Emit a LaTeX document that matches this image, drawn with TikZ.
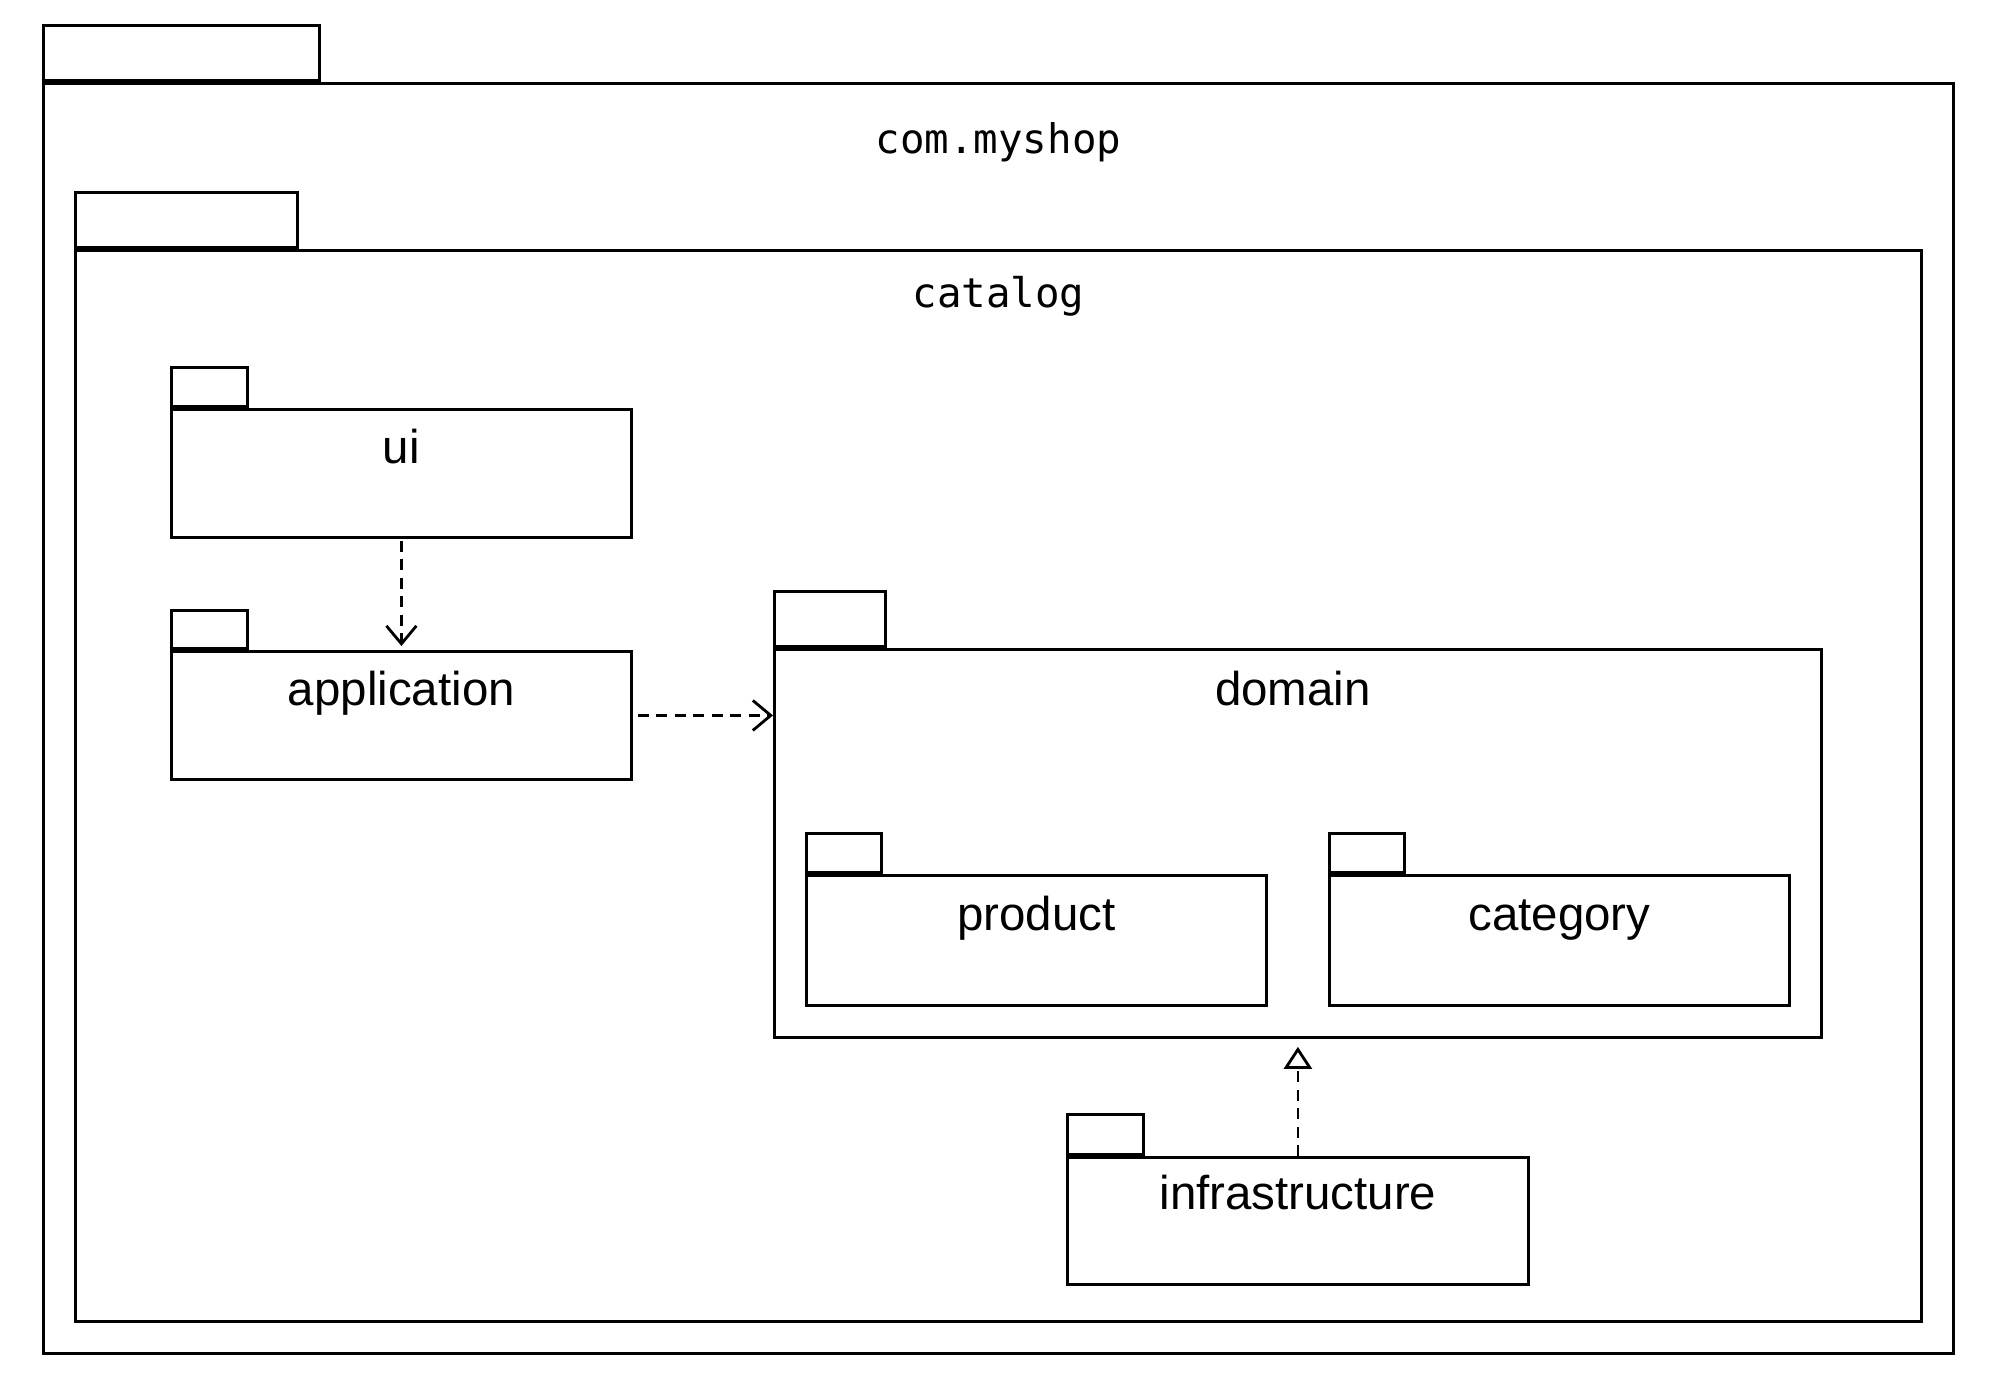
\documentclass[tikz,border=0pt]{standalone}
\usepackage{fontspec}
\setmainfont{Liberation Sans}
\newfontfamily\monofont{DejaVu Sans Mono}
\usetikzlibrary{arrows.meta,positioning}

\tikzset{
    pkgbody/.style={draw, line width=0.8pt, rectangle, inner sep=0pt, anchor=north west},
    pkgtab/.style={draw, line width=0.8pt, rectangle, inner sep=0pt, anchor=south west},
    pkglabel/.style={anchor=base, inner sep=0pt, font=\fontsize{13.5pt}{16pt}\selectfont},
    pkgtitle/.style={anchor=base, inner sep=0pt, font=\monofont\fontsize{11.6pt}{14pt}\selectfont},
    dependency/.style={line width=0.8pt, dash pattern=on 0.11cm off 0.075cm,
        -{Straight Barb[length=0.18cm, width=0.3cm]}},
    realizes/.style={line width=0.8pt, dash pattern=on 0.11cm off 0.075cm,
        -{Triangle[open, length=0.22cm, width=0.28cm]}}
}

\begin{document}
\begin{tikzpicture}
    \useasboundingbox (0,0) rectangle (20,-13.9);
    % outer packages
    \node[pkgbody, minimum width=19.10cm, minimum height=12.70cm] (myshop) at (0.42,-0.82) {};
    \node[pkgtab, minimum width=2.76cm, minimum height=0.55cm] (myshoptab) at (myshop.north west) {};
    \node[pkgtitle] (myshoplbl) at ([yshift=-0.71cm]myshop.north) {com.myshop};
    \node[pkgbody, minimum width=18.46cm, minimum height=10.71cm] (catalog) at (0.74,-2.49) {};
    \node[pkgtab, minimum width=2.22cm, minimum height=0.55cm] (catalogtab) at (catalog.north west) {};
    \node[pkgtitle] (cataloglbl) at ([yshift=-0.58cm]catalog.north) {catalog};
    % ui and application
    \node[pkgbody, minimum width=4.60cm, minimum height=1.28cm] (ui) at (1.70,-4.08) {};
    \node[pkgtab, minimum width=0.76cm, minimum height=0.39cm] (uitab) at (ui.north west) {};
    \node[pkglabel] (uilbl) at ([yshift=-0.55cm]ui.north) {ui};
    \node[pkgbody, minimum width=4.60cm, minimum height=1.28cm] (app) at (1.70,-6.50) {};
    \node[pkgtab, minimum width=0.76cm, minimum height=0.38cm] (apptab) at (app.north west) {};
    \node[pkglabel] (applbl) at ([yshift=-0.55cm]app.north) {application};
    % domain
    \node[pkgbody, minimum width=10.47cm, minimum height=3.88cm] (domain) at (7.73,-6.48) {};
    \node[pkgtab, minimum width=1.11cm, minimum height=0.55cm] (domaintab) at (domain.north west) {};
    \node[pkglabel] (domainlbl) at ([xshift=-0.05cm, yshift=-0.57cm]domain.north) {domain};
    \node[pkgbody, minimum width=4.60cm, minimum height=1.30cm] (product) at (8.05,-8.74) {};
    \node[pkgtab, minimum width=0.75cm, minimum height=0.39cm] (producttab) at (product.north west) {};
    \node[pkglabel] (productlbl) at ([yshift=-0.56cm]product.north) {product};
    \node[pkgbody, minimum width=4.60cm, minimum height=1.30cm] (category) at (13.28,-8.74) {};
    \node[pkgtab, minimum width=0.75cm, minimum height=0.39cm] (categorytab) at (category.north west) {};
    \node[pkglabel] (categorylbl) at ([yshift=-0.56cm]category.north) {category};
    % infrastructure
    \node[pkgbody, minimum width=4.61cm, minimum height=1.27cm] (infra) at (10.66,-11.56) {};
    \node[pkgtab, minimum width=0.76cm, minimum height=0.40cm] (infratab) at (infra.north west) {};
    \node[pkglabel] (infralbl) at ([yshift=-0.53cm]infra.north) {infrastructure};
    % dependencies
    \draw[dependency, shorten <=0.02cm, shorten >=0.04cm] (ui.south) -- (app.north);
    \draw[dependency, shorten <=0.05cm] (app.east) -- (app.east -| domain.west);
    \draw[realizes, shorten >=0.08cm] (infra.north) -- (infra.north |- domain.south);
\end{tikzpicture}
\end{document}
